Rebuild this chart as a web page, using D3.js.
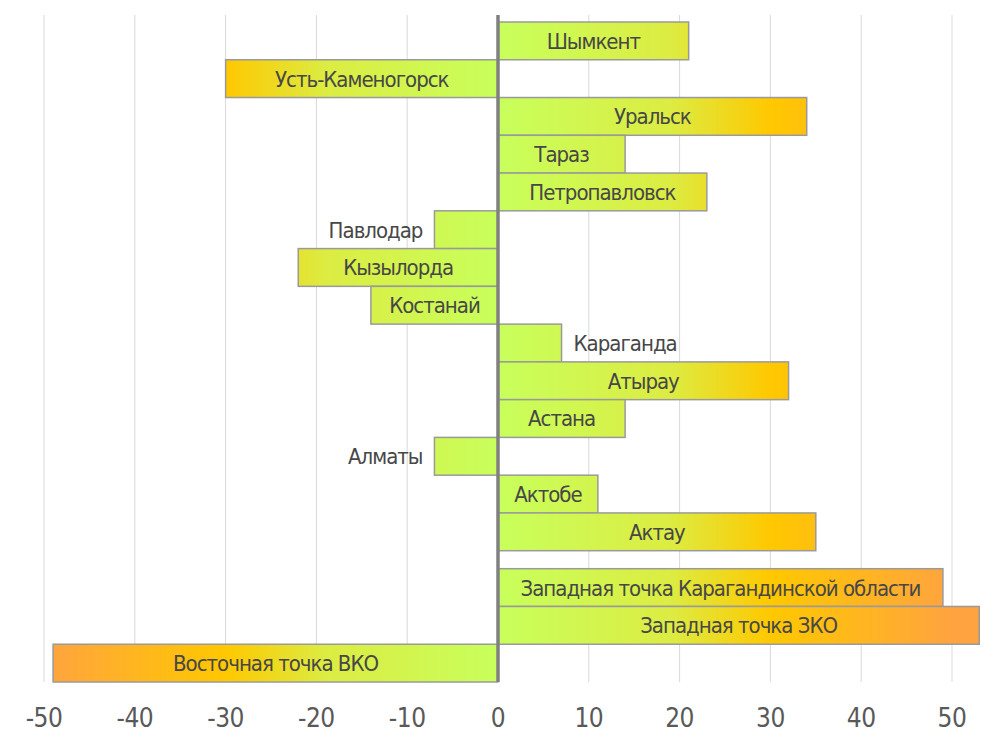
<!DOCTYPE html>
<html>
    <head>
        <meta charset="utf-8" />
        <script src="https://d3js.org/d3.v7.min.js"></script>
        <style>
            body {
                margin: 0;
                background: #fff;
            }
            svg {
                display: block;
                font-family: 'DejaVu Sans Condensed', 'DejaVu Sans', sans-serif;
            }
        </style>
    </head>
    <body>
        <svg width="1000" height="745"></svg>
        <script>
            // города сверху вниз, как на картинке
            const categories = [
                'Шымкент',
                'Усть-Каменогорск',
                'Уральск',
                'Тараз',
                'Петропавловск',
                'Павлодар',
                'Кызылорда',
                'Костанай',
                'Караганда',
                'Атырау',
                'Астана',
                'Алматы',
                'Актобе',
                'Актау',
                'Западная точка Карагандинской области',
                'Западная точка ЗКО',
                'Восточная точка ВКО'
            ]
            const values = [21, -30, 34, 14, 23, -7, -22, -14, 7, 32, 14, -7, 11, 35, 49, 53, -49]
            // с какого бара начинается вторая группа (после разрыва)
            const groupStart = 14
            const tickValues = [-50, -40, -30, -20, -10, 0, 10, 20, 30, 40, 50]

            const data = categories.map((c, i) => ({ name: c, value: values[i], i: i }))

            const plotTop = 22
            const plotBottom = 682
            const gap = 18

            const svg = d3.select('svg')

            const x = d3.scaleLinear().domain([-50, 50]).range([44, 952])
            const y = d3
                .scaleBand()
                .domain(categories)
                .range([plotTop, plotBottom - gap])
                .padding(0)

            const yPos = (d) => y(d.name) + (d.i >= groupStart ? gap : 0)

            // градиенты: от нуля к краям
            const defs = svg.append('defs')
            const stops = [
                [0, '#c8ff5c'],
                [0.38, '#dcec42'],
                [0.6, '#ffc800'],
                [1, '#ffa340']
            ]
            ;[
                ['gradPos', 50],
                ['gradNeg', -50]
            ].forEach(([id, end]) => {
                const g = defs
                    .append('linearGradient')
                    .attr('id', id)
                    .attr('gradientUnits', 'userSpaceOnUse')
                    .attr('x1', x(0))
                    .attr('x2', x(end))
                    .attr('y1', 0)
                    .attr('y2', 0)
                g.selectAll('stop')
                    .data(stops)
                    .enter()
                    .append('stop')
                    .attr('offset', (d) => d[0])
                    .attr('stop-color', (d) => d[1])
            })

            // сетка
            svg.append('g')
                .selectAll('line')
                .data(tickValues.filter((t) => t !== 0))
                .enter()
                .append('line')
                .attr('x1', (d) => x(d))
                .attr('x2', (d) => x(d))
                .attr('y1', 15)
                .attr('y2', plotBottom)
                .style('stroke', '#d9d9d9')
                .style('stroke-width', '1px')

            // подписи оси
            svg.append('g')
                .selectAll('text')
                .data(tickValues)
                .enter()
                .append('text')
                .attr('x', (d) => x(d))
                .attr('y', 727)
                .attr('text-anchor', 'middle')
                .style('font-size', '26px')
                .style('letter-spacing', '-0.5px')
                .style('fill', '#595959')
                .text((d) => d)

            // бары
            svg.append('g')
                .selectAll('rect')
                .data(data)
                .enter()
                .append('rect')
                .attr('x', (d) => x(Math.min(0, d.value)))
                .attr('y', (d) => yPos(d))
                .attr('width', (d) => Math.abs(x(d.value) - x(0)))
                .attr('height', y.bandwidth())
                .style('fill', (d) => (d.value >= 0 ? 'url(#gradPos)' : 'url(#gradNeg)'))
                .style('stroke', '#9a9a9a')
                .style('stroke-width', '1.5px')

            // нулевая линия
            svg.append('line')
                .attr('x1', x(0))
                .attr('x2', x(0))
                .attr('y1', 15)
                .attr('y2', plotBottom)
                .style('stroke', '#808080')
                .style('stroke-width', '3.5px')

            // подписи баров: внутри, если помещается, иначе снаружи
            svg.append('g')
                .selectAll('text')
                .data(data)
                .enter()
                .append('text')
                .attr('y', (d) => yPos(d) + y.bandwidth() / 2)
                .attr('dy', '0.36em')
                .style('font-size', '22px')
                .style('letter-spacing', '-1px')
                .style('fill', '#474747')
                .text((d) => d.name)
                .each(function (d) {
                    const w = this.getComputedTextLength()
                    const barW = Math.abs(x(d.value) - x(0))
                    const t = d3.select(this)
                    if (w + 16 < barW) {
                        t.attr('x', (x(d.value) + x(0)) / 2).attr('text-anchor', 'middle')
                    } else if (d.value < 0) {
                        t.attr('x', x(d.value) - 12).attr('text-anchor', 'end')
                    } else {
                        t.attr('x', x(d.value) + 12).attr('text-anchor', 'start')
                    }
                })
        </script>
    </body>
</html>
